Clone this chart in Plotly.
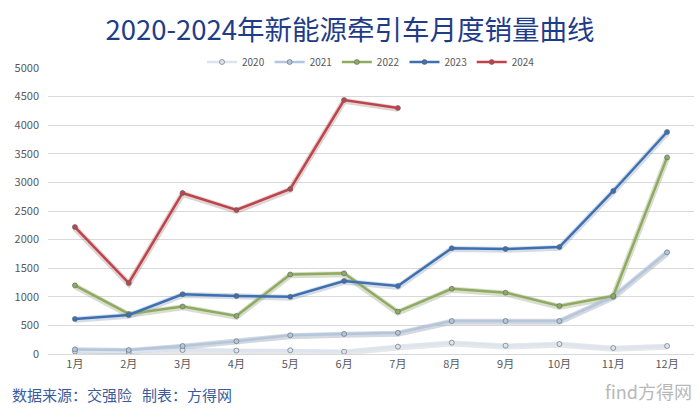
import plotly.graph_objects as go

months = ["1月", "2月", "3月", "4月", "5月", "6月", "7月", "8月", "9月", "10月", "11月", "12月"]
years = ["2020", "2021", "2022", "2023", "2024"]
s2020 = [45, 35, 70, 60, 65, 40, 128, 198, 146, 175, 105, 140]
s2021 = [80, 68, 140, 222, 327, 350, 370, 577, 577, 577, 1002, 1778]
s2022 = [1200, 700, 830, 664, 1390, 1410, 740, 1140, 1072, 840, 1014, 3437]
s2023 = [612, 682, 1045, 1014, 1000, 1276, 1189, 1850, 1836, 1870, 2850, 3881]
s2024 = [2220, 1241, 2815, 2517, 2885, 4440, 4300]
y_ticks = [0, 500, 1000, 1500, 2000, 2500, 3000, 3500, 4000, 4500, 5000]

series = [s2020, s2021, s2022, s2023, s2024]
colors = ["#dbe4ef", "#b4c6de", "#8fab5e", "#3d70b2", "#c0434a"]
shadow = ["rgba(180,185,190,0.35)", "rgba(160,170,185,0.45)", "rgba(170,180,150,0.45)",
          "rgba(120,140,170,0.30)", "rgba(150,110,110,0.30)"]

fig = go.Figure()
for name, vals, c, sh in zip(years, series, colors, shadow):
    x = months[:len(vals)]
    fig.add_trace(go.Scatter(x=x, y=[v - 15 for v in vals], mode="lines",
                             line=dict(color=sh, width=6), showlegend=False, hoverinfo="skip"))
for name, vals, c in zip(years, series, colors):
    x = months[:len(vals)]
    fig.add_trace(go.Scatter(x=x, y=vals, name=name, mode="lines+markers",
                             line=dict(color=c, width=2.5),
                             marker=dict(color=c, size=5,
                                         line=dict(color="rgba(90,100,110,0.6)", width=1))))

fig.update_layout(
    width=700, height=411,
    paper_bgcolor="white", plot_bgcolor="white",
    margin=dict(l=48, r=6, t=68, b=57, autoexpand=False),
    font=dict(family="Noto Sans CJK SC, Noto Sans, sans-serif", color="#595959", size=11),
    title=dict(text="2020-2024年新能源牵引车月度销量曲线", x=0.5, xanchor="center",
               yref="container", y=1 - 30 / 411, yanchor="middle",
               font=dict(size=27.5, color="#1f3c88", family="Noto Sans CJK SC")),
    legend=dict(orientation="h", x=0.5, xanchor="center",
                yref="container", y=1 - 62 / 411, yanchor="middle",
                font=dict(size=10, color="#595959"), itemwidth=30,
                bgcolor="rgba(255,255,255,0)"),
    showlegend=True,
)
fig.update_xaxes(type="category", categoryorder="array", categoryarray=months,
                 showgrid=False, showline=True, linecolor="#d9d9d9", linewidth=1,
                 ticks="", tickfont=dict(size=11, color="#595959"),
                 range=[-0.5, 11.5], automargin=False)
fig.update_yaxes(range=[0, 5000], tickvals=y_ticks, showgrid=True, gridcolor="#d9d9d9",
                 gridwidth=1, zeroline=False, showline=False, ticks="",
                 tickfont=dict(size=11, color="#595959"), ticklabelstandoff=8,
                 automargin=False)

fig.add_annotation(text="数据来源：交强险   制表：方得网", xref="paper", yref="paper",
                   x=-38 / 646, y=-40 / 286, xanchor="left", yanchor="middle", showarrow=False,
                   font=dict(size=15, color="#3a5c9e", family="Noto Sans CJK SC"))
fig.add_annotation(text="find方得网", xref="paper", yref="paper",
                   x=1.0, y=-37 / 286, xanchor="right", yanchor="middle", showarrow=False,
                   font=dict(size=18, color="#b8b8b8", family="Noto Sans CJK SC"))

fig.write_html("out.html", config={"displayModeBar": False},
               post_script="document.body.style.margin='0';document.body.style.padding='0';")
